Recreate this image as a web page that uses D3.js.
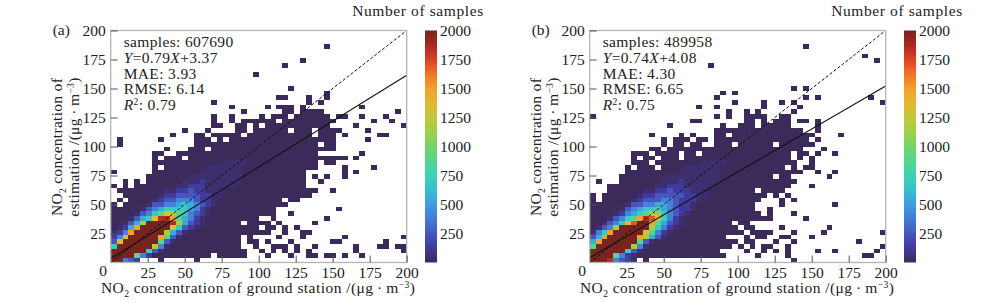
<!DOCTYPE html>
<html>
<head>
<meta charset="utf-8">
<script src="https://cdn.jsdelivr.net/npm/d3@7"></script>
<style>
body { margin: 0; background: #fff; }
text { font-family: "Liberation Serif", serif; fill: #222; }
</style>
</head>
<body>
<script>
var width = 1000,
    height = 303;

// 50 x 50 bins, row 0 on top, one letter per bin, spaces only for counting
var gridA = [
"","","",
".......... .......... .......... ......a...",
"","",
".......... .......... .......... ..a.......",
".......... .......... .........a",
"",
".......... .......... ....a.....",
"","",
".......... .......... .......... a.........",
".......... .......... .......... ......a...",
".......... .......... ........aa ...a..a...",
".......... .......a.. .......... ...a.a....",
".......... .......... a.....a.aa a.a....... ..a.......",
".......... .......... ..a......a a.aaaa.... ........a.",
".......... .......a.. a....a.aaa .aaaaaa.aa ..a...a...",
".......... .......a.. a.aaaaaa.a aaaaaaaa.. ....a..a..",
".......... .......aa. .aa.a.aaaa aaaaaaa... .a.......a",
".......... ..a...a... .aa.aaaaaa .aaa.aaaa. ...a......",
".......... a...aa.aaa aa.aaaaaaa aaaa.aaa.a .....aa...",
".a......a. ....aaa.a. aaaaaaaaaa aaaaaaaa.. ...a......",
".a........ ....aaaaaa aaaaaaaaaa aaaaa.aa..",
".........a ...aaa.aaa aaaaaaaaaa aaaaaaaa..",
".......aa. .aaaaaaaaa aaaaaaaaaa aaaaa..... ..a.......",
".......a.a aa.aaaaaaa aaaaaaaaaa aaaaaaaaaa .a........",
".......aaa aaaaaaaaab bbbaaaaaaa aaaaa.aa..",
".......a.a aaaaaabbbb bbaaaaaaaa aaaaa....a ....a.....",
"a......aaa aaaaabbbbb bbaaaaaaaa aaa......a .a........",
"......aaaa aaabbbbbbb bbaaaaaaaa aaa.a.a..a",
"..a.a.aaaa aabbbcbbbb bbaaaaaaaa aaa..a....",
"a.a.aaaaaa abbcccbbbb baaaaaaaaa aaa.......",
".aaaaaaaab bccdccbbba aaaaaaaaaa aaaaa..a..",
"..aaaaaabc cddddccbba aaaaaaaaaa aaaa......",
".a.aaaabcd deeedccbaa aaaaaaaaa. aa........",
"a.aaaabdde efgfedcbaa aaaaaaaaaa ..........",
"aaaaabdefg gggfecbaaa aaaaaaaa.. ........a.",
"aaaabdeghj ihgedcbaaa aaaaaaaa.. a.........",
"aaabdfgjmm khfecbaaaa aaaaa..a.. ......a...",
"aabdfinnnn mifdcbaaaa aa.aaaa.a. ....a.....",
"abcfknnnnn jgdcbaaaaa aaaaa.aa.a .a........",
"bceknnnnni fdbaaaaaaa aaaaaaa..a ..aa......",
"cejnnnnnkh dbaaaaaaaa aa.a....a. ..a......a .........a",
"djnnnnnnhd baaaaaaaaa aa.aa.a... a......aa. ......a...",
"gnnnnnnieb aaaaaaaaaa aa..a..aaa .a..a..... .a...aa.aa",
"nnnnnngdba aaaaaaaaaa aaa..a.a.a .a.a...... .a.......a",
"nnnnhecaaa aaaaaaa.aa aaa...a... a..aa.aa.a ..a.......",
"nnedc...a. ....a....."
];

var gridB = [
"","","",
".......... .......... .......... ......a...",
"",
".......... .......... .......... .......... ......a...",
".......... .......... .......... .......... ........a.",
".......... .......... a.........",
"","","","",
".......... .......... .......... ....a.a...",
".......... .......... ..a.a.....",
".......... .......... .a........ ......a.a. .......a..",
".......... .......... ....a....a ..a.a..... .........a",
".......... ........a. .a.......a .....a....",
".......... .......... ...a..a.a. ....a.....",
"a......... .......... .a.a..aaaa ..aa......",
".......... .......aa. ......aa.a .aaa.aa.a.",
".......... ...a...... ..a..aaa.a aaaa....a.",
".......... .......... .aaaaaaaaa aaaaaa..a.",
".......... a....a.a.. .aa.aaaaaa aaaaaaaa.. ..a.......",
".......... ..a.aaa.aa .aaaaaaaaa aaaaaaa.a.",
".......... ..a.aa.aa. .aaa.aaaaa a.aaaaaa..",
".......... aa.aaaaaaa aaaaaaaaaa aaaaaa...a",
".......aaa .aaaa.aa.a aaaaaaaaaa aaaa.aa.a. .a........",
".......a.a a.aaa.aaaa aaaaaaaaaa aaaa.a.a..",
".......aaa .aaaaaaaab bbbaaaaaaa aaaaa..a..",
"......a.aa a.aaaabbbb bbaaaaaaaa aaa.a.aa..",
"......aaaa aaaaabbbbb bbaaaaaaaa aaaaaa..a. .a........",
".....aaaaa aaabbbbbbb bbaaaaaaaa a.aa...... a.........",
".a...aaaaa aabbbcbbbb bbaaaaaaaa aaaaa.....",
"...aaaaaaa abbcccbbbb baaaaaaaaa aaaa...a..",
"...aaaaaab bccdcccbbb aaaaaaaa.a aaa.......",
"a.aaaaaabc cdddddccbb aaaaaaaaaa .a.a......",
"a.aaaaabcd ddeedcccba aaaaaaaaa. ..a.a.....",
"aaaaaabdde effedccbaa aaaaaaaa.. ..a....... .a........",
"aaaaabdefg ggfedccbaa aaaaaaaa.. a.........",
"aaaabcefgh iigedcbaaa aaaaaaaaa. a...a.....",
"aaabdeghkm ljgecbaaaa aaaaaaaaaa a.....a...",
"aabdegjlnn khfdcbaaaa aaaa.aa...",
"abdeinnnnn igecbaaaaa aaaaa.aa.. ..a....... a.........",
"begknnnnnj hecbaaaaaa aaaaaa.aaa a...a....a .........a",
"dfknnnnnki fdbaaaaaaa aaa...a.aa ..aa...a..",
"fknnnnnnhd baaaaaaaaa aaaaa.aa.. .a..a..... .....a....",
"hnnnnnnieb aaaaaaaaaa aaaa.a.a.a a..a...... .........a",
"nnnnnngdba aaaaaaaaaa aa....a..a .a.a....a. .a......a.",
"nnnnhecbaa aaaaaaaaaa aaa.....a. ...a...... ......aa..",
"nnnmedcb.a .......... .......... ....a....."
];

// what each letter stands for, in samples per bin
var binKeys = "abcdefghijklmn".split("");
var binValues = [1, 40, 130, 250, 400, 550, 700, 900, 1150, 1350, 1500, 1700, 1850, 2000];

var colorValues = [1, 125, 250, 375, 500, 625, 750, 875, 1000, 1125, 1250, 1375, 1500, 1625, 1750, 1875, 2000];
var colorRange = ["#3b2a5a", "#41399a", "#4658c0", "#447ad8", "#3f9ce0", "#36bfd0", "#3ed2b4", "#52d68f", "#74d468",
    "#9ed04a", "#c2c83a", "#e4b834", "#f3a02e", "#ee7428", "#dc4026", "#a82a20", "#762420"];

var binSize = 4;
var axisTicks = [25, 50, 75, 100, 125, 150, 175, 200];
var barTicks = [250, 500, 750, 1000, 1250, 1500, 1750, 2000];

var names = ["(a)", "(b)"];
var slopes = [0.79, 0.74];
var intercepts = [3.37, 4.08];
var samples = ["607690", "489958"];
var maes = ["3.93", "4.30"];
var rmses = ["6.14", "6.65"];
var r2s = ["0.79", "0.75"];
var lefts = [110.7, 589.7];
var barLefts = [425, 904];

var binValue = d3.scaleOrdinal().domain(binKeys).range(binValues);
var color = d3.scaleLinear().domain(colorValues).range(colorRange);

var plotW = 296,
    plotH = 232,
    plotTop = 30.5;

var svg = d3.select('body')
    .append('svg')
    .attr('width', width)
    .attr('height', height)
    .style('display', 'block');

var defs = svg.append('defs');
var grad = defs.append('linearGradient')
    .attr('id', 'bar')
    .attr('x1', 0).attr('x2', 0).attr('y1', 1).attr('y2', 0);
grad.selectAll('stop')
    .data(colorValues)
    .enter()
    .append('stop')
    .attr('offset', d => d / 2000)
    .attr('stop-color', d => color(d));

// text pieces: [string, style], style is i, sub or sup
function rich(sel, parts, size) {
    var shift = 0;
    parts.forEach(p => {
        var t = sel.append('tspan').text(p[0]);
        var dy = -shift;
        shift = 0;
        if (p[1] == 'i') t.style('font-style', 'italic');
        if (p[1] == 'sub') { shift = 4; dy += 4; t.style('font-size', (size * 0.62) + 'px'); }
        if (p[1] == 'sup') { shift = -5; dy += -5; t.style('font-size', (size * 0.62) + 'px'); }
        if (dy != 0) t.attr('dy', dy);
    });
}

var unit = [["/(\u03bcg\u2009\u00b7\u2009m"], ["\u22123", "sup"], [")"]];

names.forEach((name, k) => {
    var left = lefts[k];
    var grid = k == 0 ? gridA : gridB;

    var x = d3.scaleLinear().domain([0, 200]).range([left, left + plotW]);
    var y = d3.scaleLinear().domain([0, 200]).range([plotTop + plotH, plotTop]);

    var bins = [];
    grid.forEach((row, r) => {
        row.replace(/ /g, "").split("").forEach((c, col) => {
            if (c != ".") bins.push({ col: col, row: 49 - r, n: binValue(c) });
        });
    });

    var g = svg.append('g');

    g.selectAll('rect.bin')
        .data(bins)
        .enter()
        .append('rect')
        .attr('class', 'bin')
        .attr('x', d => x(d.col * binSize))
        .attr('y', d => y((d.row + 1) * binSize))
        .attr('width', x(binSize) - x(0))
        .attr('height', y(0) - y(binSize))
        .attr('shape-rendering', 'crispEdges')
        .attr('fill', d => color(d.n));

    // 1:1 line and the fit
    g.append('line')
        .attr('x1', x(0)).attr('y1', y(0))
        .attr('x2', x(200)).attr('y2', y(200))
        .attr('stroke', '#111')
        .attr('stroke-width', 1)
        .attr('stroke-dasharray', '3,2');
    g.append('line')
        .attr('x1', x(0)).attr('y1', y(intercepts[k]))
        .attr('x2', x(200)).attr('y2', y(slopes[k] * 200 + intercepts[k]))
        .attr('stroke', '#111')
        .attr('stroke-width', 1.1);

    g.append('rect')
        .attr('x', left).attr('y', plotTop)
        .attr('width', plotW).attr('height', plotH)
        .attr('fill', 'none')
        .attr('stroke', '#b4b4b4')
        .attr('stroke-width', 1.3);

    var xAxis = g.append('g')
        .attr('transform', 'translate(0,' + (plotTop + plotH) + ')')
        .call(d3.axisBottom(x).tickValues(axisTicks).tickSize(-7).tickPadding(4));
    var yAxis = g.append('g')
        .attr('transform', 'translate(' + left + ',0)')
        .call(d3.axisLeft(y).tickValues(axisTicks).tickSize(-7).tickPadding(5));
    [xAxis, yAxis].forEach(a => {
        a.select('.domain').remove();
        a.selectAll('line').attr('stroke', '#555');
        a.selectAll('text').style('font-size', '15.5px').style('font-family', '"Liberation Serif", serif').attr('fill', '#222');
    });

    // the one 0 sits down in the corner
    g.append('text')
        .attr('x', left - 7.7).attr('y', 276)
        .attr('text-anchor', 'middle')
        .style('font-size', '15.5px')
        .text(0);

    g.append('text')
        .attr('x', left - 58).attr('y', 35)
        .style('font-size', '15.5px')
        .text(name);

    // stats block
    var stats = [
        [["samples: " + samples[k]]],
        [["Y", "i"], ["=" + slopes[k].toFixed(2)], ["X", "i"], ["+" + intercepts[k].toFixed(2)]],
        [["MAE: " + maes[k]]],
        [["RMSE: " + rmses[k]]],
        [["R", "i"], ["2", "sup"], [": " + r2s[k]]]
    ];
    stats.forEach((parts, i) => {
        var t = g.append('text')
            .attr('x', left + 13).attr('y', 47 + i * 15.8)
            .style('font-size', '15.5px')
            .style('letter-spacing', '0.35px');
        rich(t, parts, 15.5);
    });

    // axis titles
    var xt = g.append('text')
        .attr('x', left + 147.5).attr('y', 293)
        .attr('text-anchor', 'middle')
        .style('font-size', '15.5px')
        .style('letter-spacing', '0.45px');
    rich(xt, [["NO"], ["2", "sub"], [" concentration of ground station "]].concat(unit), 15.5);

    var yt1 = g.append('text')
        .attr('transform', 'translate(' + (left - 48.5) + ',147) rotate(-90)')
        .attr('text-anchor', 'middle')
        .style('font-size', '15.5px')
        .style('letter-spacing', '0.3px');
    rich(yt1, [["NO"], ["2", "sub"], [" concentration of"]], 15.5);

    var yt2 = g.append('text')
        .attr('transform', 'translate(' + (left - 32) + ',147) rotate(-90)')
        .attr('text-anchor', 'middle')
        .style('font-size', '15.5px')
        .style('letter-spacing', '0.3px');
    rich(yt2, [["estimation "]].concat(unit), 15.5);

    // colour bar
    var barY = d3.scaleLinear().domain([0, 2000]).range([plotTop + plotH, plotTop]);
    g.append('rect')
        .attr('x', barLefts[k]).attr('y', plotTop)
        .attr('width', 12).attr('height', plotH)
        .attr('fill', 'url(#bar)');
    var barAxis = g.append('g')
        .attr('transform', 'translate(' + (barLefts[k] + 12) + ',0)')
        .call(d3.axisRight(barY).tickValues(barTicks).tickFormat(d3.format('d')).tickSize(0).tickPadding(3));
    barAxis.select('.domain').remove();
    barAxis.selectAll('text').style('font-size', '15.5px').style('font-family', '"Liberation Serif", serif').attr('fill', '#222');

    g.append('text')
        .attr('x', barLefts[k] - 7).attr('y', 16)
        .attr('text-anchor', 'middle')
        .style('font-size', '15.5px')
        .style('letter-spacing', '0.6px')
        .text("Number of samples");
});
</script>
</body>
</html>
